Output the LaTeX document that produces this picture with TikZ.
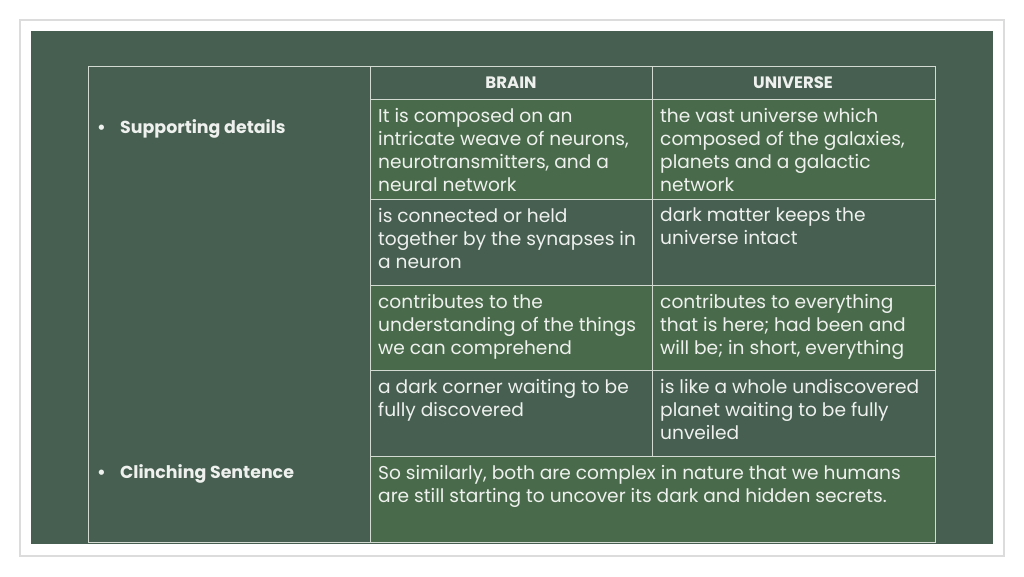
\documentclass[tikz,border=0pt]{standalone}
\usepackage{fontspec}
\setmainfont{Poppins}
\definecolor{slidebg}{HTML}{465F51}
\definecolor{lightrow}{HTML}{4A6B4B}
\definecolor{gridline}{HTML}{D2DAD2}
\definecolor{frameline}{HTML}{DCDCDC}
\definecolor{txt}{HTML}{EEF1EE}
\tikzset{
  celltext/.style={anchor=north west, inner sep=0pt, align=left, text=txt,
    font=\fontsize{18.6}{23}\selectfont},
  headtext/.style={inner sep=0pt, text=txt, font=\fontsize{16.5}{18}\selectfont\bfseries},
  sidetext/.style={anchor=west, inner sep=0pt, text=txt, font=\fontsize{17.4}{20}\selectfont\bfseries},
  grid/.style={draw=gridline, line width=1pt}
}
\begin{document}
\begin{tikzpicture}[x=1pt,y=-1pt]
\useasboundingbox (0,0) rectangle (1024,576);
\fill[white] (0,0) rectangle (1024,576);
\draw[frameline, line width=1.5pt] (20,20) rectangle (1004,556);
\fill[slidebg] (31,31) rectangle (993,544);
% light rows
\fill[lightrow] (370,99) rectangle (935,199);
\fill[lightrow] (370,285) rectangle (935,370);
\fill[lightrow] (370,456) rectangle (935,542);
% grid
\draw[grid] (88,66) rectangle (935,542);
\draw[grid] (370,66) -- (370,542);
\draw[grid] (652,66) -- (652,456);
\draw[grid] (370,99) -- (935,99);
\draw[grid] (370,199) -- (935,199);
\draw[grid] (370,285) -- (935,285);
\draw[grid] (370,370) -- (935,370);
\draw[grid] (370,456) -- (935,456);
% headers
\node[headtext] (hb) at (511,83) {BRAIN};
\node[headtext] (hu) at (793,83) {UNIVERSE};
% side labels
\node[sidetext] (b1) at (97,129) {•};
\node[sidetext] (s1) at (120,129) {Supporting details};
\node[sidetext] (b2) at (97,474) {•};
\node[sidetext] (s2) at (120,474) {Clinching Sentence};
% cells
\node[celltext] (c11) at (378,108) {It is composed on an\\intricate weave of neurons,\\neurotransmitters, and a\\neural network};
\node[celltext] (c12) at (660,108) {the vast universe which\\composed of the galaxies,\\planets and a galactic\\network};
\node[celltext] (c21) at (378,208) {is connected or held\\together by the synapses in\\a neuron};
\node[celltext] (c22) at (660,208) {dark matter keeps the\\universe intact};
\node[celltext] (c31) at (378,294) {contributes to the\\understanding of the things\\we can comprehend};
\node[celltext] (c32) at (660,294) {contributes to everything\\that is here; had been and\\will be; in short, everything};
\node[celltext] (c41) at (378,379) {a dark corner waiting to be\\fully discovered};
\node[celltext] (c42) at (660,379) {is like a whole undiscovered\\planet waiting to be fully\\unveiled};
\node[celltext] (c5) at (378,465) {So similarly, both are complex in nature that we humans\\are still starting to uncover its dark and hidden secrets.};
\end{tikzpicture}
\end{document}
